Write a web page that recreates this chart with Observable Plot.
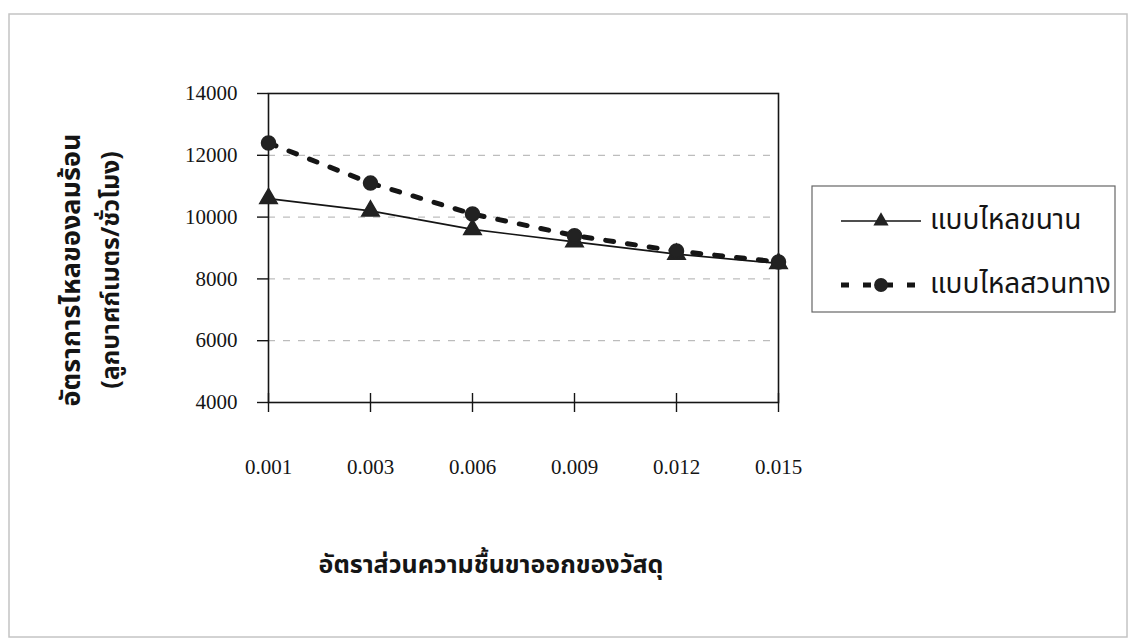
<!DOCTYPE html>
<html>
<head>
<meta charset="utf-8">
<script src="https://cdn.jsdelivr.net/npm/d3@7"></script>
<script src="https://cdn.jsdelivr.net/npm/@observablehq/plot@0.6"></script>
<style>
  html, body { margin: 0; padding: 0; background: #fff; }
  #chart { position: relative; width: 1132px; height: 640px; }
</style>
</head>
<body>
<div id="chart"></div>
<script>
// Outlet moisture ratio of the material (categories on the x axis)
const moistureRatios = ["0.001", "0.003", "0.006", "0.009", "0.012", "0.015"];
// Hot-air flow rate (m³/h) for each flow arrangement
const parallelFlow = [10600, 10200, 9600, 9200, 8800, 8500];
const counterFlow  = [12400, 11100, 10100, 9400, 8900, 8550];
const yTicks = [4000, 6000, 8000, 10000, 12000, 14000];
const seriesNames = ["แบบไหลขนาน", "แบบไหลสวนทาง"];
const xTitle = "อัตราส่วนความชื้นขาออกของวัสดุ";
const yTitleLines = ["อัตราการไหลของลมร้อน", "(ลูกบาศก์เมตร/ชั่วโมง)"];

const parallelRows = moistureRatios.map((m, i) => ({m, v: parallelFlow[i]}));
const counterRows  = moistureRatios.map((m, i) => ({m, v: counterFlow[i]}));

const serif = "'Liberation Serif', 'DejaVu Serif', serif";
const thai = "'Noto Sans Thai', 'Noto Serif Thai', 'Loma', 'Garuda', 'Tlwg Typo', sans-serif";
const ink = "#151515";

const svg = Plot.plot({
  width: 1132,
  height: 640,
  marginLeft: 268,
  marginRight: 354,
  marginTop: 93,
  marginBottom: 238,
  style: {fontFamily: serif, fontSize: "21px", color: ink, background: "#fff"},
  x: {type: "point", domain: moistureRatios, padding: 0},
  y: {domain: [4000, 14000]},
  marks: [
    Plot.gridY(yTicks.slice(1, -1), {stroke: "#8a8a8a", strokeOpacity: 0.7, strokeDasharray: "7,8"}),
    Plot.frame({stroke: ink, strokeWidth: 1.6}),
    Plot.axisY(yTicks, {tickSize: 11, tickPadding: 20, tickFormat: d3.format("d"), label: null, stroke: ink, strokeWidth: 1.4, fill: ink}),
    Plot.axisX({tickSize: 19, dy: -9, text: null, label: null, stroke: ink, strokeWidth: 1.4}),
    Plot.axisX({tickSize: 0, tickPadding: 57, label: null, fill: ink}),
    Plot.line(parallelRows, {x: "m", y: "v", stroke: ink, strokeWidth: 1.7}),
    Plot.line(counterRows, {x: "m", y: "v", stroke: ink, strokeWidth: 5, strokeDasharray: "8,14"}),
    Plot.dot(parallelRows, {x: "m", y: "v", symbol: "triangle", r: 6.5, fill: "#222", stroke: "#222"}),
    Plot.dot(counterRows, {x: "m", y: "v", symbol: "circle", r: 7, fill: "#222", stroke: "#222"})
  ]
});

const root = d3.select(svg);

// Outer chart-area border
root.insert("rect", ":first-child")
  .attr("x", 9).attr("y", 14).attr("width", 1118).attr("height", 623)
  .attr("fill", "none").attr("stroke", "#c4c4c4").attr("stroke-width", 1.5);

// Axis titles
root.append("text")
  .attr("x", 491).attr("y", 566)
  .attr("text-anchor", "middle").attr("dominant-baseline", "middle")
  .attr("font-family", thai).attr("font-size", 25).attr("font-weight", "bold")
  .attr("fill", ink).text(xTitle);

const yTitleSizes = [27, 25];
yTitleLines.forEach((line, i) => {
  root.append("text")
    .attr("transform", `translate(${72 + i * 40},270) rotate(-90)`)
    .attr("text-anchor", "middle").attr("dominant-baseline", "middle")
    .attr("font-family", thai).attr("font-size", yTitleSizes[i]).attr("font-weight", "bold")
    .attr("fill", ink).text(line);
});

// Legend
const legend = root.append("g");
legend.append("rect")
  .attr("x", 812).attr("y", 186).attr("width", 303).attr("height", 126)
  .attr("fill", "#fff").attr("stroke", "#666").attr("stroke-width", 1.2);

const legendRows = [
  {y: 221, dash: null, width: 1.7, symbol: d3.symbolTriangle, size: 100},
  {y: 285, dash: "8,14", width: 5, symbol: d3.symbolCircle, size: 150}
];
legendRows.forEach((row, i) => {
  legend.append("line")
    .attr("x1", 841).attr("x2", 921).attr("y1", row.y).attr("y2", row.y)
    .attr("stroke", ink).attr("stroke-width", row.width)
    .attr("stroke-dasharray", row.dash);
  legend.append("path")
    .attr("transform", `translate(881,${row.y})`)
    .attr("d", d3.symbol(row.symbol, row.size)())
    .attr("fill", "#222");
  legend.append("text")
    .attr("x", 930).attr("y", row.y)
    .attr("text-anchor", "start").attr("dominant-baseline", "middle")
    .attr("font-family", thai).attr("font-size", 28)
    .attr("fill", ink).text(seriesNames[i]);
});

document.getElementById("chart").appendChild(svg);
</script>
</body>
</html>
